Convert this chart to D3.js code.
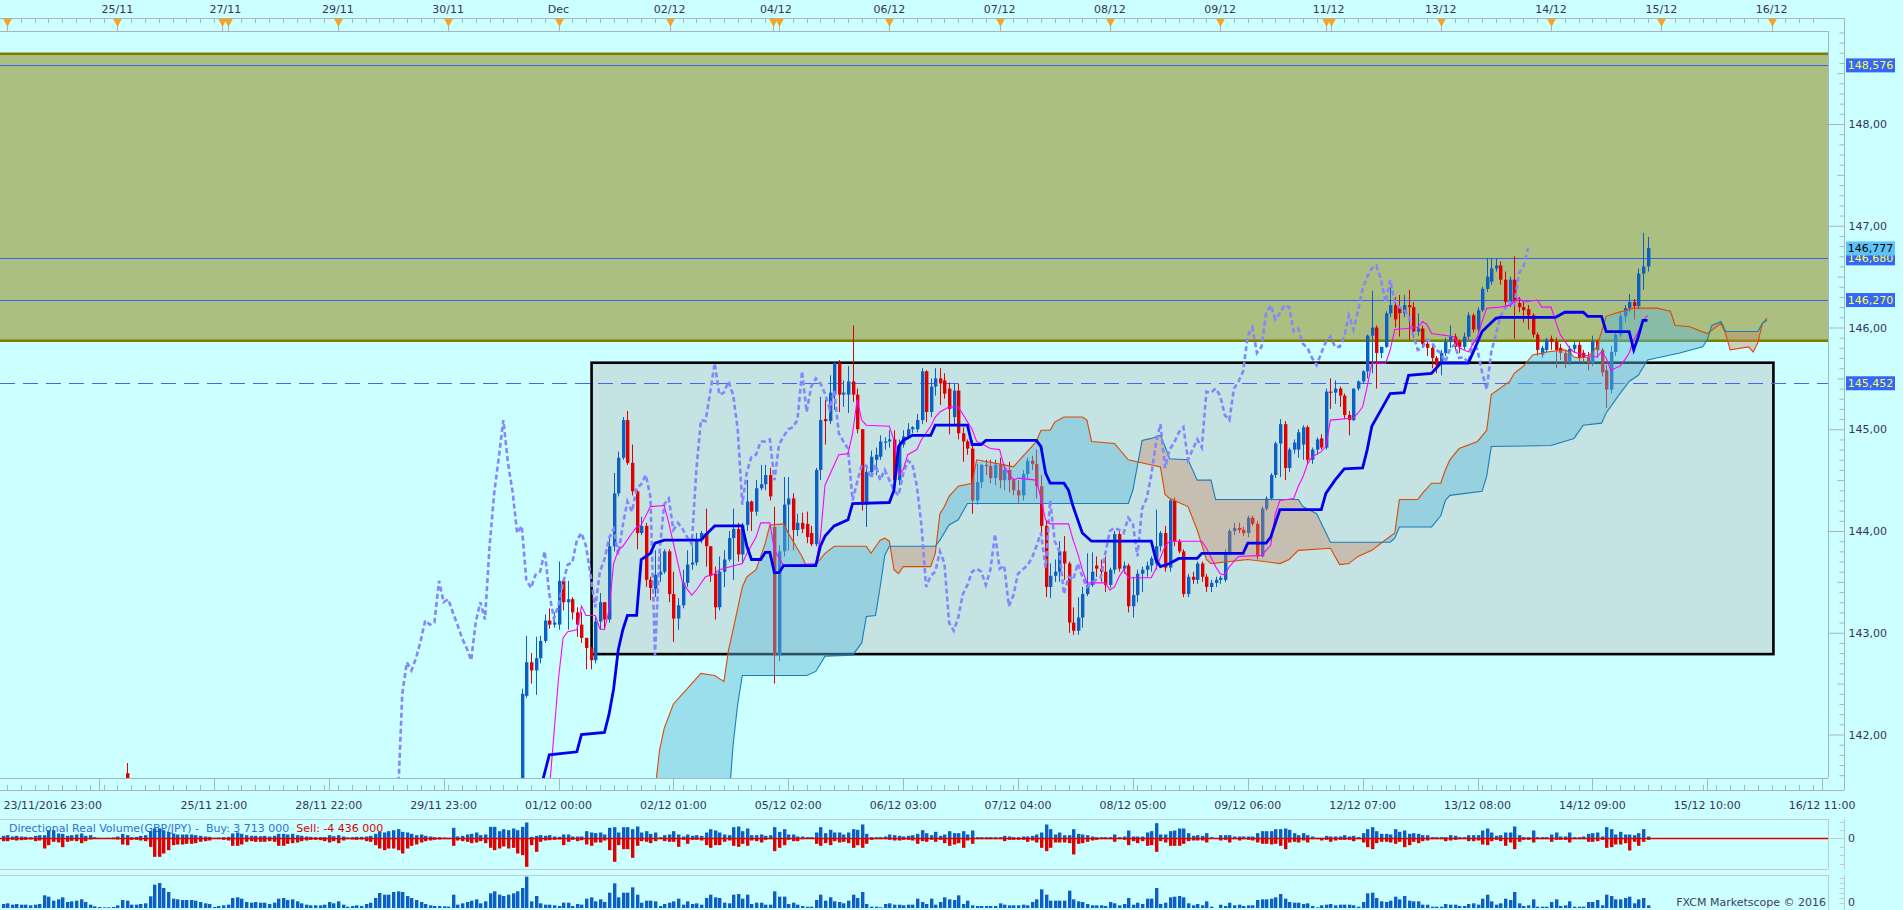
<!DOCTYPE html>
<html><head><meta charset="utf-8">
<script src="https://cdn.jsdelivr.net/npm/d3@7"></script>
<style>
body{margin:0;background:#ccffff;overflow:hidden}
svg{display:block}
text{font-family:"DejaVu Sans",Verdana,sans-serif;font-size:11px}
</style></head>
<body><svg id="c" width="1903" height="910"></svg>
<script>
// ================= DATA =================
// hourly GBP/JPY candles, bar index 0 = 01/12 00:00
const firstBar = -9;
const candles = [
[140.90,141.35,140.80,141.30],[141.30,142.45,141.20,142.40],[142.38,142.97,142.36,142.71],[142.71,142.80,142.50,142.63],
[142.63,142.96,142.39,142.75],[142.75,142.97,142.70,142.92],[142.92,143.18,142.90,143.12],[143.12,143.24,143.04,143.08],
[143.08,143.20,143.05,143.10],[143.08,143.70,143.03,143.51],[143.51,143.53,143.22,143.30],[143.30,143.51,143.03,143.33],
[143.33,143.35,143.13,143.20],[143.20,143.25,142.96,143.08],[143.08,143.20,142.90,142.95],[142.95,142.95,142.64,142.85],
[142.85,142.86,142.64,142.73],[142.73,143.16,142.70,143.11],[143.11,143.39,143.03,143.30],[143.30,143.30,143.03,143.13],
[143.13,143.93,143.10,143.85],[143.85,144.57,143.80,144.37],[144.37,144.78,144.34,144.72],[144.72,145.12,144.70,145.09],
[145.09,145.18,144.65,144.67],[144.67,144.85,144.35,144.39],[144.39,144.40,143.82,143.98],[143.98,144.14,143.96,144.05],
[144.05,144.08,143.45,143.52],[143.52,143.55,143.32,143.44],[143.43,143.81,143.35,143.57],[143.57,143.80,143.50,143.60],
[143.60,143.82,143.58,143.80],[143.80,143.82,143.30,143.38],[143.38,143.60,142.91,143.14],[143.14,143.34,143.03,143.27],
[143.27,143.62,143.24,143.49],[143.49,143.81,143.45,143.67],[143.67,143.85,143.62,143.69],[143.69,143.98,143.66,143.91],
[143.91,144.00,143.88,143.98],[143.98,144.22,143.65,143.85],[143.85,143.85,143.50,143.56],[143.58,143.65,143.13,143.25],
[143.25,143.75,143.22,143.60],[143.60,143.81,143.45,143.72],[143.72,144.00,143.70,143.93],[143.93,144.22,143.52,144.02],
[144.02,144.08,143.70,143.77],[143.77,144.08,143.68,144.06],[144.06,144.50,144.00,144.29],[144.29,144.30,144.00,144.19],
[144.19,144.50,144.15,144.42],[144.42,144.65,144.40,144.46],[144.46,144.65,144.40,144.55],[144.55,144.62,144.30,144.34],
[144.04,144.24,142.50,142.78],[142.78,143.86,142.72,143.80],[143.80,144.53,143.75,144.26],[144.26,144.53,143.81,144.32],
[144.32,144.37,143.81,144.01],[144.01,144.17,143.95,144.08],[144.08,144.18,143.98,144.02],[144.07,144.19,143.88,143.94],
[143.98,144.05,143.85,143.87],[143.87,144.62,143.85,144.60],[144.60,145.32,144.50,145.09],[145.10,145.29,144.85,145.08],
[145.08,145.53,145.05,145.36],[145.34,145.67,145.19,145.65],[145.65,145.68,145.17,145.34],[145.34,145.48,145.22,145.36],
[145.34,145.62,145.16,145.47],[145.47,146.02,145.27,145.34],[145.34,145.40,144.96,145.00],[145.00,145.00,144.20,144.26],
[144.26,144.65,144.04,144.58],[144.58,144.79,144.55,144.73],[144.70,144.82,144.55,144.75],[144.73,144.94,144.70,144.88],
[144.88,144.92,144.80,144.88],[144.88,144.99,144.82,144.90],[144.90,144.99,144.45,144.50],[144.50,144.90,144.45,144.85],
[144.85,144.99,144.82,144.93],[144.93,145.06,144.90,145.00],[145.00,145.03,144.96,145.02],[145.00,145.15,144.97,145.09],
[145.09,145.60,145.05,145.57],[145.57,145.58,145.07,145.17],[145.17,145.50,145.12,145.42],[145.42,145.60,145.33,145.50],
[145.50,145.60,145.24,145.45],[145.48,145.55,145.30,145.35],
[145.40,145.46,144.95,145.20],[145.12,145.45,145.05,145.38],[145.38,145.45,144.90,144.96],[144.96,145.02,144.68,144.88],
[144.88,144.90,144.75,144.81],[144.81,144.89,144.17,144.30],[144.30,144.66,144.26,144.48],[144.48,144.66,144.42,144.65],
[144.65,144.70,144.55,144.64],[144.64,144.70,144.47,144.52],[144.52,144.70,144.45,144.65],[144.65,144.72,144.42,144.50],
[144.50,144.65,144.40,144.60],[144.60,144.68,144.38,144.50],[144.50,144.52,144.35,144.40],[144.40,144.50,144.28,144.35],
[144.35,144.60,144.30,144.56],[144.56,144.72,144.50,144.69],[144.69,144.74,144.60,144.66],[144.66,144.80,144.32,144.44],
[144.44,144.55,143.95,144.05],[144.05,144.10,143.35,143.45],[143.45,143.68,143.34,143.56],[143.56,143.72,143.50,143.60],
[143.60,143.90,143.50,143.80],[143.80,143.95,143.52,143.68],[143.68,143.70,143.00,143.10],[143.10,143.25,142.98,143.02],
[143.02,143.35,142.98,143.15],[143.15,143.45,143.05,143.38],[143.38,143.78,143.36,143.47],[143.47,143.79,143.45,143.60],
[143.66,143.75,143.55,143.63],[143.63,143.72,143.50,143.60],[143.60,143.75,143.40,143.47],[143.47,143.64,143.44,143.62],
[143.62,144.00,143.58,143.97],[143.97,144.00,143.60,143.63],[143.63,143.70,143.58,143.66],[143.66,143.68,143.20,143.26],
[143.26,143.55,143.15,143.37],[143.37,143.62,143.30,143.58],[143.58,143.65,143.40,143.62],[143.62,143.70,143.55,143.66],
[143.66,143.75,143.60,143.73],[143.68,144.21,143.62,143.85],[143.85,144.00,143.80,143.98],[143.98,144.05,143.60,143.64],
[143.64,144.32,143.60,144.30],[144.30,144.33,143.85,143.90],[143.90,143.92,143.78,143.80],[143.80,143.82,143.35,143.38],
[143.38,143.58,143.35,143.55],[143.55,143.60,143.48,143.52],[143.52,143.70,143.48,143.68],[143.68,143.70,143.50,143.55],
[143.55,143.58,143.40,143.45],[143.45,143.52,143.40,143.49],[143.49,143.55,143.45,143.52],[143.52,143.56,143.48,143.54],
[143.52,143.82,143.50,143.78],[143.78,144.02,143.76,144.00],[144.00,144.08,143.96,144.03],[144.03,144.08,143.98,144.01],
[144.01,144.04,143.95,143.98],[143.98,144.15,143.94,144.13],[144.13,144.15,144.05,144.07],[144.07,144.10,143.72,143.75],
[143.75,144.24,143.74,144.22],[144.22,144.34,144.20,144.32],[144.32,144.57,144.30,144.55],[144.55,144.88,144.52,144.86],
[144.86,145.10,144.53,145.05],[145.05,145.08,144.50,144.62],[144.62,144.82,144.58,144.80],[144.80,144.90,144.76,144.87],
[144.80,145.00,144.72,144.97],[144.85,145.04,144.70,145.02],[145.02,145.04,144.65,144.70],[144.70,144.82,144.66,144.80],
[144.80,144.92,144.75,144.90],[144.91,144.95,144.80,144.82],[144.82,145.40,144.80,145.37],[145.37,145.50,145.20,145.36],
[145.36,145.48,145.25,145.40],[145.40,145.42,145.22,145.33],[145.33,145.35,145.10,145.14],[145.14,145.18,144.94,145.09],
[145.09,145.40,145.08,145.40],[145.40,145.48,145.38,145.47],[145.47,145.58,145.45,145.57],[145.57,145.93,145.50,145.92],
[145.92,146.36,145.55,146.00],[146.00,146.02,145.40,145.75],[145.75,145.80,145.70,145.81],[145.81,146.16,145.80,146.14],
[146.14,146.40,146.10,146.22],[146.22,146.30,146.00,146.08],
[146.20,146.32,145.91,146.14],[146.14,146.32,146.10,146.22],[146.22,146.37,145.88,146.20],[146.20,146.25,145.90,145.96],
[145.96,146.14,145.92,145.99],[145.99,146.02,145.80,145.84],[145.84,145.86,145.72,145.80],[145.80,145.82,145.60,145.70],
[145.70,145.72,145.55,145.63],[145.65,145.78,145.53,145.75],[145.75,145.90,145.72,145.86],[145.86,146.02,145.80,145.91],
[145.91,145.94,145.78,145.81],[145.86,145.88,145.75,145.81],[145.81,145.95,145.78,145.91],[145.91,146.15,145.88,146.12],
[146.12,146.14,145.95,145.98],[145.98,146.20,145.95,146.17],[146.17,146.40,146.15,146.38],[146.38,146.68,146.35,146.50],
[146.45,146.68,146.42,146.58],[146.58,146.68,146.55,146.61],[146.61,146.65,146.42,146.47],[146.47,146.55,146.22,146.25],
[146.25,146.50,146.20,146.47],[146.47,146.70,145.89,146.25],[146.24,146.30,146.15,146.20],[146.20,146.25,146.05,146.17],
[146.18,146.22,145.98,146.12],[146.12,146.14,145.90,145.93],[145.93,145.95,145.72,145.78],[145.73,145.82,145.70,145.80],
[145.78,145.90,145.75,145.88],[145.89,145.92,145.78,145.86],[145.86,145.90,145.60,145.78],[145.80,145.84,145.68,145.75],
[145.75,145.78,145.60,145.66],[145.66,145.82,145.63,145.79],[145.79,145.86,145.75,145.83],[145.83,145.86,145.66,145.70],
[145.75,145.78,145.65,145.71],[145.71,145.76,145.58,145.65],[145.65,145.92,145.62,145.86],[145.86,145.88,145.70,145.78],
[145.78,145.80,145.52,145.56],[145.58,145.63,145.21,145.39],[145.39,145.82,145.35,145.76],[145.76,145.96,145.72,145.93],
[145.93,146.14,145.90,146.11],[146.11,146.22,146.05,146.19],[146.19,146.33,146.15,146.25],[146.25,146.28,146.08,146.21],
[146.21,146.58,146.18,146.53],[146.53,146.93,146.37,146.60],[146.60,146.89,146.55,146.78]
];
const earlyCandles = [[-94, 141.62, 141.72, 141.40, 141.52]]; // [bar, o, h, l, c]

// Ichimoku lines: [bar, price]
const tenkan = [[-2,141.45],[-1,142.0],[0,142.55],[1,142.95],[2,143.01],[4,143.03],[5,143.26],[6,143.17],[8,143.17],[9,143.04],[10,143.03],[11,143.22],[12,143.68],[13,143.81],[14,143.85],[16,143.98],[17,144.04],[18,144.06],[20,144.24],[23,144.25],[24,144.08],[26,143.68],[27,143.49],[29,143.37],[30,143.42],[32,143.55],[34,143.58],[35,143.62],[40,143.68],[41,143.78],[43,143.94],[44,144.08],[46,144.08],[47,143.81],[49,143.66],[56,143.68],[57,143.94],[58,144.45],[59,144.55],[61,144.75],[63,144.76],[64,144.96],[65,145.29],[66,145.09],[67,145.04],[72,145.03],[73,144.89],[74,144.55],[75,144.60],[76,144.75],[78,144.80],[79,144.90],[81,145.03],[82,145.12],[83,145.17],[85,145.22],[87,145.22],[90,145.0],[91,144.88],[92,144.86],[94,144.81],[96,144.80],[97,144.63],[99,144.50],[100,144.52],[104,144.50],[105,144.32],[106,144.11],[107,144.07],[111,144.07],[112,143.91],[113,143.78],[114,143.62],[115,143.49],[119,143.49],[120,143.42],[121,143.45],[122,143.55],[123,143.62],[124,143.54],[129,143.54],[130,143.63],[132,143.85],[133,143.90],[140,143.90],[141,143.83],[143,143.65],[144,143.58],[145,143.57],[146,143.65],[148,143.75],[153,143.76],[155,143.86],[156,144.17],[157,144.30],[160,144.32],[161,144.44],[162,144.53],[163,144.66],[164,144.73],[166,144.78],[167,144.83],[168,145.09],[173,145.11],[174,145.16],[175,145.22],[176,145.42],[177,145.65],[180,145.65],[181,145.78],[182,145.98],[187,146.0],[188,146.06],[189,146.03],[190,145.94],[195,145.91],[196,145.80],[198,145.76],[200,145.91],[201,146.06],[202,146.19],[205,146.20],[207,146.22],[209,146.29],[210,146.25],[213,146.27],[214,146.20],[216,146.20],[217,146.06],[218,145.93],[220,145.80],[221,145.76],[223,145.73],[226,145.71],[227,145.76],[228,145.70],[229,145.58],[231,145.62],[232,145.68],[233,145.75],[234,145.88],[235,145.96],[236,146.06],[237,146.12]];
const kijun = [[-4,141.45],[-2,141.80],[4,141.83],[5,142.0],[10,142.02],[11,142.2],[12,142.45],[13,142.83],[14,143.03],[15,143.17],[17,143.17],[18,143.72],[20,143.78],[21,143.88],[23,143.91],[31,143.91],[32,143.96],[34,144.05],[40,144.05],[41,143.85],[42,143.72],[44,143.72],[45,143.79],[46,143.79],[47,143.59],[48,143.59],[49,143.66],[56,143.66],[57,143.85],[58,143.95],[60,144.05],[61,144.07],[63,144.11],[64,144.27],[72,144.28],[73,144.40],[74,144.83],[75,144.89],[77,144.94],[81,144.94],[82,145.04],[89,145.04],[90,144.85],[92,144.85],[93,144.89],[104,144.89],[105,144.83],[106,144.57],[107,144.47],[110,144.47],[111,144.40],[112,144.24],[114,143.98],[116,143.90],[129,143.90],[130,143.72],[131,143.65],[133,143.68],[135,143.73],[139,143.73],[140,143.78],[149,143.78],[150,143.88],[154,143.88],[155,143.94],[157,144.21],[166,144.21],[167,144.37],[169,144.50],[171,144.61],[175,144.62],[176,144.80],[177,145.03],[179,145.19],[181,145.35],[184,145.36],[185,145.53],[190,145.55],[192,145.65],[198,145.65],[199,145.75],[201,145.96],[204,146.09],[205,146.10],[217,146.10],[219,146.15],[223,146.15],[224,146.11],[227,146.11],[228,145.96],[233,145.96],[234,145.78],[235,145.91],[236,146.07],[237,146.07]];
const senkouA = [[20,141.2],[21,141.45],[22,141.85],[23,142.06],[25,142.30],[27,142.40],[29,142.50],[31,142.60],[34,142.58],[36,142.52],[37,142.83],[38,143.03],[40,143.45],[41,143.55],[43,143.62],[45,143.88],[46,144.06],[49,144.07],[50,143.98],[53,143.75],[54,143.65],[56,143.67],[58,143.78],[60,143.85],[67,143.85],[68,143.78],[70,143.91],[71,143.93],[72,143.90],[73,143.62],[74,143.58],[75,143.65],[81,143.65],[82,143.78],[83,144.17],[84,144.24],[85,144.34],[87,144.44],[90,144.47],[91,144.70],[97,144.65],[99,144.63],[101,144.73],[103,144.83],[104,144.88],[105,144.99],[107,144.99],[108,145.07],[110,145.12],[114,145.12],[115,145.09],[116,144.88],[121,144.86],[124,144.70],[131,144.63],[132,144.36],[133,144.32],[137,144.24],[139,144.01],[141,143.72],[142,143.68],[150,143.72],[157,143.68],[159,143.72],[161,143.81],[168,143.83],[169,143.75],[170,143.67],[172,143.68],[174,143.75],[177,143.81],[179,143.88],[182,143.98],[183,144.31],[187,144.31],[188,144.37],[190,144.47],[192,144.47],[193,144.60],[194,144.70],[196,144.81],[200,144.88],[202,144.99],[203,145.34],[207,145.47],[208,145.55],[210,145.62],[212,145.73],[215,145.76],[219,145.78],[220,145.76],[221,145.71],[222,145.70],[224,145.71],[225,145.76],[226,145.81],[227,145.96],[228,146.11],[230,146.14],[234,146.19],[239,146.19],[242,146.16],[243,146.02],[246,146.01],[250,145.94],[253,146.04],[254,145.94],[255,145.78],[259,145.81],[260,145.76],[261,145.85],[262,146.04],[263,146.09]];
const senkouB = [[21,140.6],[36,140.6],[37,141.30],[38,141.90],[39,142.30],[40,142.58],[54,142.58],[56,142.62],[58,142.77],[64,142.78],[66,142.90],[67,143.16],[69,143.17],[70,143.45],[71,143.76],[72,143.85],[82,143.85],[83,143.91],[85,144.06],[87,144.11],[89,144.27],[124,144.27],[125,144.40],[127,144.89],[129,144.91],[131,144.94],[132,144.83],[133,144.71],[137,144.70],[139,144.50],[142,144.50],[143,144.31],[161,144.31],[162,144.24],[165,144.17],[168,143.89],[181,143.89],[182,143.93],[183,144.04],[190,144.04],[192,144.15],[193,144.30],[194,144.35],[201,144.39],[202,144.54],[203,144.83],[216,144.84],[221,144.91],[223,145.04],[227,145.06],[228,145.16],[231,145.35],[233,145.47],[235,145.53],[237,145.68],[239,145.70],[244,145.75],[249,145.81],[250,145.88],[251,146.02],[253,146.06],[254,145.96],[261,145.96],[262,146.04],[263,146.07]];
const chikouShift = 26;

// Directional real volume (thousands), bar index from -121
const volFirstBar = -121;
const buyVol = [8,10,6,8,6,5,4,8,10,10,25,25,15,14,8,10,12,15,8,10,4,2,1,2,3,6,14,10,4,5,8,10,22,30,30,25,20,15,12,12,12,12,10,8,6,5,2,3,4,5,15,18,14,10,8,8,7,8,6,8,14,14,12,14,10,8,6,5,4,4,4,10,7,10,6,3,4,5,5,6,8,14,20,18,22,25,28,20,18,14,10,12,8,6,4,4,3,2,32,6,8,12,14,18,10,12,35,35,22,28,25,30,25,35,48,5,8,10,8,10,6,5,
12,12,6,6,6,22,18,16,18,12,32,34,18,34,34,28,36,18,22,14,18,4,10,12,22,12,6,12,8,10,8,18,28,24,18,12,10,34,36,22,30,10,10,12,8,10,34,20,28,12,12,6,6,4,4,18,34,16,26,18,18,12,18,28,26,42,14,4,4,4,6,12,10,8,6,8,10,14,25,16,10,20,8,12,22,16,16,22,12,24,4,4,4,4,4,4,8,6,4,4,6,6,8,12,18,42,28,12,18,10,10,28,14,12,10,6,4,4,4,4,12,4,
6,24,6,6,6,18,22,46,12,12,22,24,30,30,16,8,10,8,16,4,0,10,10,10,6,6,6,6,6,16,22,22,22,28,28,30,26,16,10,16,10,6,2,2,8,6,6,6,10,6,8,4,16,28,34,22,14,14,12,28,20,24,14,16,14,10,10,4,4,4,4,10,8,4,4,10,10,10,24,30,18,8,10,18,18,36,10,4,4,24,4,4,4,12,18,6,6,18,4,4,6,14,16,18,6,34,28,12,20,12,12,10,16,28,6];
const sellVol = [8,8,4,6,5,4,3,8,6,30,20,10,12,26,10,7,8,14,8,3,1,1,1,1,2,3,18,20,4,4,6,8,25,55,55,45,35,20,18,18,16,16,14,10,8,6,1,2,4,6,22,22,18,10,8,10,10,10,8,10,22,22,16,14,12,8,6,4,4,5,8,12,8,14,6,2,3,4,3,8,10,20,30,35,30,30,35,45,30,22,18,12,8,6,4,3,2,2,22,6,8,10,14,12,8,14,28,35,30,24,30,28,45,50,85,20,40,10,6,5,4,3,
20,10,4,8,5,18,22,12,12,6,35,70,20,32,32,58,22,8,10,14,8,2,8,10,10,25,4,16,4,4,6,20,28,20,20,10,6,22,25,16,22,6,8,12,4,2,38,28,20,4,8,8,2,1,1,16,22,14,20,8,12,10,14,28,20,28,16,4,2,2,2,4,6,6,4,4,6,16,8,10,4,10,4,14,22,18,14,28,6,16,2,2,2,2,2,2,8,4,4,4,4,10,6,12,28,38,28,12,12,12,14,48,16,14,10,6,4,2,2,2,10,2,
4,20,8,14,8,22,20,40,8,12,22,22,22,16,8,6,6,6,12,0,0,6,4,12,2,6,2,4,6,12,16,16,18,16,22,32,12,10,12,6,12,2,2,6,4,10,6,4,4,4,8,2,12,26,32,14,10,10,12,16,10,26,20,10,14,8,6,2,2,2,8,6,4,2,2,8,8,6,18,20,8,4,8,22,12,32,10,4,4,12,2,2,2,10,4,4,4,12,2,2,2,10,10,8,4,28,26,18,18,14,36,10,22,10,4];
const totalVol = [12,14,10,12,10,10,8,10,12,38,34,22,26,32,18,20,22,26,18,10,5,3,2,2,3,8,24,22,10,10,12,14,35,70,75,60,48,28,26,24,24,24,22,18,14,12,3,6,8,10,30,32,28,18,16,18,16,16,12,16,28,30,24,26,20,14,10,8,8,8,10,18,14,20,10,4,6,8,6,12,16,30,45,40,40,48,50,48,36,30,24,18,12,8,6,6,5,4,40,10,14,18,22,26,14,20,44,50,40,36,40,44,50,60,94,20,36,14,10,10,8,6,
16,16,6,12,10,28,32,20,26,18,46,74,32,46,46,62,40,16,22,22,20,6,12,16,20,28,10,20,12,14,10,30,40,32,30,16,14,40,42,28,40,12,16,16,10,10,50,34,34,12,16,10,6,4,4,24,40,22,32,20,18,14,22,40,30,48,12,4,4,2,12,14,10,10,8,10,10,28,18,12,28,10,18,32,26,24,38,12,22,8,6,6,6,6,6,14,10,8,8,8,10,8,18,26,56,40,22,22,22,22,52,26,20,18,12,8,8,8,6,18,14,8,
12,30,10,16,12,28,28,60,12,16,32,34,36,32,14,8,12,8,20,4,0,10,6,16,8,10,6,8,8,24,26,26,28,32,42,28,18,16,16,12,14,6,2,8,10,12,8,10,10,10,8,4,18,44,46,30,20,18,22,34,26,36,22,20,20,10,10,4,4,4,12,10,10,6,6,12,14,10,28,40,20,10,14,28,24,48,14,6,8,26,4,4,4,18,26,6,8,20,4,4,4,18,18,24,8,40,36,26,26,30,34,14,26,30,8];
const volTitle = "Directional Real Volume(GBP/JPY) -  Buy: 3 713 000  ";
const volSell = "Sell: -4 436 000";

// axes
const bottomLabels = [[-100,"23/11/2016 23:00"],[-75,"25/11 21:00"],[-50,"28/11 22:00"],[-25,"29/11 23:00"],[0,"01/12 00:00"],[25,"02/12 01:00"],[50,"05/12 02:00"],[75,"06/12 03:00"],[100,"07/12 04:00"],[125,"08/12 05:00"],[150,"09/12 06:00"],[175,"12/12 07:00"],[200,"13/12 08:00"],[225,"14/12 09:00"],[250,"15/12 10:00"],[275,"16/12 11:00"]];
const topLabels = [[-96,"25/11"],[-72.5,"27/11"],[-48,"29/11"],[-24,"30/11"],[0,"Dec"],[24.2,"02/12"],[47.3,"04/12"],[72,"06/12"],[96,"07/12"],[120,"08/12"],[144,"09/12"],[167.6,"11/12"],[192,"13/12"],[216,"14/12"],[240,"15/12"],[264,"16/12"]];
const dayMarkers = [-120,-96,-73.2,-71.9,-48,-24,0,24.2,46.7,48,72,96,120,144,167,168.2,192,216,240,264];
const priceTicks = [142,143,144,145,146,147,148];
const levels = [148.576,146.68,146.27];
const dashedLevel = 145.452;
const lastPrice = 146.777;
const zone = {low:145.87, high:148.69};
const box = {k0:7.2, k1:264.4, low:142.79, high:145.654};

// ================= DRAWING =================
const svg = d3.select("#c");
const PL=0, PR=1828, PT=31, PB=778, AX=1844.5;
const x = d3.scaleLinear().domain([0,100]).range([558.5,558.5+459.5]);
const y = d3.scaleLinear().domain([141.5725,148.914]).range([PB,PT]);
const BLUE="#0d5fc4", RED="#e00000", GRID="#a9b3c2", TXT="#35355a";

svg.append("rect").attr("width",1903).attr("height",910).attr("fill","#ccffff");
const defs = svg.append("defs");
defs.append("clipPath").attr("id","plot").append("rect").attr("x",PL).attr("y",PT).attr("width",PR-PL).attr("height",PB-PT);

const P = svg.append("g").attr("clip-path","url(#plot)");
// zone
P.append("rect").attr("x",PL).attr("width",PR-PL).attr("y",y(zone.high)).attr("height",y(zone.low)-y(zone.high)).attr("fill","#aabf80");
[zone.high,zone.low].forEach(v=>P.append("line").attr("x1",PL).attr("x2",PR).attr("y1",y(v)).attr("y2",y(v)).attr("stroke","#7d7d00").attr("stroke-width",2.6));
levels.forEach(v=>P.append("line").attr("x1",PL).attr("x2",PR).attr("y1",Math.round(y(v))+0.5).attr("y2",Math.round(y(v))+0.5).attr("stroke","#3366ee").attr("stroke-width",1));
// box
P.append("rect").attr("x",x(box.k0)).attr("y",y(box.high)).attr("width",x(box.k1)-x(box.k0)).attr("height",y(box.low)-y(box.high))
 .attr("fill","rgba(188,188,188,0.42)").attr("stroke","#000").attr("stroke-width",2.6);
P.append("line").attr("x1",PL).attr("x2",PR).attr("y1",Math.round(y(dashedLevel))+0.5).attr("y2",Math.round(y(dashedLevel))+0.5)
 .attr("stroke","#4466ee").attr("stroke-width",1.2).attr("stroke-dasharray","15,8");

// candles
const bars = candles.map((c,i)=>({k:firstBar+i,o:c[0],h:c[1],l:c[2],c:c[3]}))
  .concat(earlyCandles.map(c=>({k:c[0],o:c[1],h:c[2],l:c[3],c:c[4]})));
const cg = P.append("g");
bars.forEach(b=>{
  const cx=Math.round(x(b.k)), col=b.c>=b.o?BLUE:RED;
  cg.append("line").attr("x1",cx+0.5).attr("x2",cx+0.5).attr("y1",y(b.h)).attr("y2",y(b.l)).attr("stroke",col).attr("stroke-width",1);
  const t=Math.min(y(b.o),y(b.c)), h=Math.max(1.2,Math.abs(y(b.o)-y(b.c)));
  cg.append("rect").attr("x",cx-1).attr("width",3.4).attr("y",t).attr("height",h).attr("fill",col);
});

// cloud
const aS=d3.scaleLinear().domain(senkouA.map(d=>d[0])).range(senkouA.map(d=>d[1])).clamp(true);
const bS=d3.scaleLinear().domain(senkouB.map(d=>d[0])).range(senkouB.map(d=>d[1])).clamp(true);
const kMin=21, kMax=263;
const ks=Array.from(new Set(senkouA.map(d=>d[0]).concat(senkouB.map(d=>d[0])).concat(d3.range(kMin,kMax+1))))
  .filter(k=>k>=kMin&&k<=kMax).sort((a,b)=>a-b);
const between=d3.area().x(k=>x(k)).y0(k=>y(aS(k))).y1(k=>y(bS(k)));
defs.append("clipPath").attr("id","aboveB").append("path").attr("d",d3.area().x(k=>x(k)).y0(0).y1(k=>y(bS(k)))(ks));
defs.append("clipPath").attr("id","aboveA").append("path").attr("d",d3.area().x(k=>x(k)).y0(0).y1(k=>y(aS(k)))(ks));
P.append("g").attr("clip-path","url(#aboveB)").append("path").attr("d",between(ks)).attr("fill","rgba(95,185,215,0.45)");
P.append("g").attr("clip-path","url(#aboveA)").append("path").attr("d",between(ks)).attr("fill","rgba(200,135,100,0.40)");

const line=d3.line().x(d=>x(d[0])).y(d=>y(d[1]));
P.append("path").attr("d",line(senkouA)).attr("fill","none").attr("stroke","#e04800").attr("stroke-width",1.1);
P.append("path").attr("d",line(senkouB)).attr("fill","none").attr("stroke","#1b7db8").attr("stroke-width",1.1);
// chikou = close shifted back
const chikou=candles.map((c,i)=>[firstBar+i-chikouShift,c[3]]);
P.append("path").attr("d",line(chikou)).attr("fill","none").attr("stroke","#8585ff").attr("stroke-width",2.6).attr("stroke-dasharray","5,3");
P.append("path").attr("d",line(tenkan)).attr("fill","none").attr("stroke","#ff00ff").attr("stroke-width",1.1);
P.append("path").attr("d",line(kijun)).attr("fill","none").attr("stroke","#0000ee").attr("stroke-width",2.8);

// frame lines
const fr=svg.append("g").attr("stroke",GRID).attr("stroke-width",1);
fr.append("line").attr("x1",0).attr("x2",AX).attr("y1",18.5).attr("y2",18.5);
fr.append("line").attr("x1",0).attr("x2",PR).attr("y1",PT+0.5).attr("y2",PT+0.5);
fr.append("line").attr("x1",PR+0.5).attr("x2",PR+0.5).attr("y1",PT).attr("y2",PB);
fr.append("line").attr("x1",0).attr("x2",PR).attr("y1",PB+0.5).attr("y2",PB+0.5);
fr.append("line").attr("x1",0).attr("x2",AX).attr("y1",790.5).attr("y2",790.5);
fr.append("line").attr("x1",AX).attr("x2",AX).attr("y1",18).attr("y2",790);

// top axis
const minorK=d3.range(-120,276,3).filter(k=>x(k)>=0&&x(k)<=PR);
minorK.forEach(k=>fr.append("line").attr("x1",Math.round(x(k))+0.5).attr("x2",Math.round(x(k))+0.5).attr("y1",18).attr("y2",23));
dayMarkers.forEach(k=>{
  const cx=Math.round(x(k))+0.5;
  fr.append("line").attr("x1",cx).attr("x2",cx).attr("y1",18).attr("y2",32);
  svg.append("path").attr("d",`M${cx-4.5},18.5L${cx+4.5},18.5L${cx},27Z`).attr("fill","#f4a428");
});
svg.append("g").selectAll("text").data(topLabels).join("text").attr("x",d=>x(d[0])).attr("y",13).attr("text-anchor","middle").attr("fill",TXT).text(d=>d[1]);

// bottom axis
minorK.forEach(k=>fr.append("line").attr("x1",Math.round(x(k))+0.5).attr("x2",Math.round(x(k))+0.5).attr("y1",785).attr("y2",790));
bottomLabels.forEach(d=>fr.append("line").attr("x1",Math.round(x(d[0]))+0.5).attr("x2",Math.round(x(d[0]))+0.5).attr("y1",778).attr("y2",790));
svg.append("g").selectAll("text").data(bottomLabels).join("text")
  .attr("x",(d,i)=>i===0?x(d[0])+3:x(d[0])).attr("y",809).attr("text-anchor",(d,i)=>i===0?"end":"middle").attr("fill",TXT).text(d=>d[1]);

// right price axis
const minorP=d3.range(1416,1490).map(v=>v/10).filter(v=>Math.abs(v-Math.round(v))>1e-6);
svg.append("g").attr("transform",`translate(${AX},0)`).call(d3.axisLeft(y).tickValues(minorP).tickSize(5).tickSizeOuter(0).tickFormat(""))
  .call(g=>{g.select(".domain").remove();g.selectAll("line").attr("stroke",GRID).attr("x2",d=>Math.abs(d*2-Math.round(d*2))<1e-6?-7:-5);});
svg.append("g").attr("transform",`translate(${PR+1},0)`)
  .call(d3.axisRight(y).tickValues(priceTicks).tickSize(AX-PR-1).tickPadding(4).tickFormat(d=>d.toFixed(2).replace(".",",")))
  .call(g=>{g.select(".domain").remove();g.selectAll("line").attr("stroke",GRID);
    g.selectAll("text").attr("fill",TXT).style("font-family","DejaVu Sans").style("font-size","11px");});

// price tags
function tag(v,bg,fg){
  const g=svg.append("g").attr("transform",`translate(1846,${y(v)})`);
  g.append("rect").attr("x",0).attr("y",-7).attr("width",49).attr("height",14).attr("fill",bg);
  g.append("text").attr("x",24.5).attr("y",4).attr("text-anchor","middle").attr("fill",fg).text(v.toFixed(3).replace(".",","));
}
levels.forEach(v=>tag(v,"#3366ff","#ffff33"));
tag(dashedLevel,"#3366ff","#ffff33");
tag(lastPrice,"#5ec4f8","#000");

// volume panels
const V1T=819, V1B=869, V2T=875, ZERO=838.5, BASE2=908;
const vfr=svg.append("g").attr("stroke","#c0cad6").attr("fill","none");
vfr.append("line").attr("x1",0).attr("x2",PR).attr("y1",V1T+0.5).attr("y2",V1T+0.5);
vfr.append("line").attr("x1",0).attr("x2",PR).attr("y1",V1B+0.5).attr("y2",V1B+0.5);
vfr.append("line").attr("x1",PR+0.5).attr("x2",PR+0.5).attr("y1",V1T).attr("y2",V1B);
vfr.append("line").attr("x1",0).attr("x2",PR).attr("y1",V2T+0.5).attr("y2",V2T+0.5);
vfr.append("line").attr("x1",PR+0.5).attr("x2",PR+0.5).attr("y1",V2T).attr("y2",910);
vfr.append("line").attr("x1",AX).attr("x2",AX).attr("y1",V1T).attr("y2",V1B);
vfr.append("line").attr("x1",AX).attr("x2",AX).attr("y1",V2T).attr("y2",910);

const yv1=d3.scaleLinear().domain([-90,57]).range([868.5,819.5]);
const yv2=d3.scaleLinear().domain([0,99]).range([BASE2,BASE2-33]);
[-75,-50,-25,25,50].forEach(v=>vfr.append("line").attr("x1",AX-5).attr("x2",AX).attr("y1",Math.round(yv1(v))+0.5).attr("y2",Math.round(yv1(v))+0.5));
vfr.append("line").attr("x1",PR).attr("x2",AX).attr("y1",ZERO).attr("y2",ZERO);
[15,30,45,60,75,90].forEach(v=>vfr.append("line").attr("x1",AX-5).attr("x2",AX).attr("y1",Math.round(yv2(v))+0.5).attr("y2",Math.round(yv2(v))+0.5));
svg.append("text").attr("x",1848).attr("y",842).attr("fill",TXT).text("0");
svg.append("text").attr("x",1848).attr("y",906).attr("fill",TXT).text("0");

const t=svg.append("text").attr("x",9).attr("y",832).attr("xml:space","preserve");
t.append("tspan").attr("fill","#2f6fd6").text(volTitle);
t.append("tspan").attr("fill","#e00000").text(volSell);
svg.append("text").attr("x",1826).attr("y",906).attr("text-anchor","end").attr("fill","#404060").text("FXCM Marketscope © 2016");

const vg=svg.append("g");
buyVol.forEach((v,i)=>{
  const cx=Math.round(x(volFirstBar+i));
  if(v>0) vg.append("rect").attr("x",cx-1).attr("width",3.4).attr("y",yv1(v)).attr("height",yv1(0)-yv1(v)).attr("fill",BLUE);
  const s=sellVol[i];
  if(s>0) vg.append("rect").attr("x",cx-1).attr("width",3.4).attr("y",yv1(0)).attr("height",yv1(-s)-yv1(0)).attr("fill",RED);
  const tv=totalVol[i];
  if(tv>0) vg.append("rect").attr("x",cx-1).attr("width",3.4).attr("y",yv2(tv)).attr("height",yv2(0)-yv2(tv)).attr("fill",BLUE);
});
svg.append("line").attr("x1",0).attr("x2",PR).attr("y1",ZERO).attr("y2",ZERO).attr("stroke","#e00000").attr("stroke-width",1.3);
</script></body></html>
